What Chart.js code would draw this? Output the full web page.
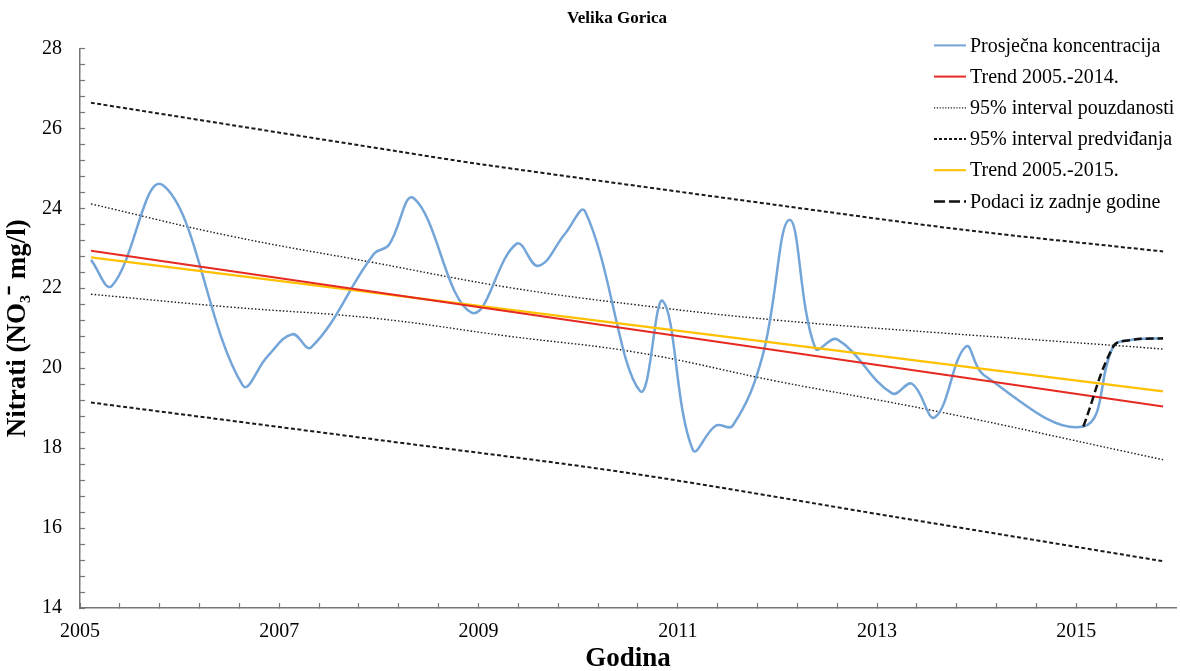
<!DOCTYPE html>
<html>
<head>
<meta charset="utf-8">
<script src="https://cdn.jsdelivr.net/npm/chart.js@4.4.1/dist/chart.umd.min.js"></script>
<style>
html,body{margin:0;padding:0;background:#fff;}
#wrap{width:1180px;height:671px;position:relative;}
</style>
</head>
<body>
<div id="wrap"><canvas id="c" width="1180" height="671"></canvas></div>
<script>
// ---------- text ----------
const chartTitle = 'Velika Gorica';
const xAxisTitle = 'Godina';
const yAxisTitle = 'Nitrati (NO\u2083\u207B mg/l)';
const xTickLabels = ['2005', '2007', '2009', '2011', '2013', '2015'];
const yTickLabels = ['14', '16', '18', '20', '22', '24', '26', '28'];
const legendLabels = [
  'Prosječna koncentracija',
  'Trend 2005.-2014.',
  '95% interval pouzdanosti',
  '95% interval predviđanja',
  'Trend 2005.-2015.',
  'Podaci iz zadnje godine'
];

// ---------- data ----------
const concYears  = [2005.11, 2005.32, 2005.83, 2006.63, 2006.88, 2007.13, 2007.32, 2007.95, 2008.10, 2008.35,
                    2008.93, 2009.38, 2009.60, 2009.87, 2010.07, 2010.62, 2010.85, 2011.15, 2011.38, 2011.55,
                    2011.85, 2012.12, 2012.38, 2012.60, 2013.15, 2013.35, 2013.58, 2013.89, 2014.07, 2015.07,
                    2015.37, 2015.53, 2015.87];
const concValues = [22.71, 22.06, 24.58, 19.58, 20.29, 20.85, 20.52, 22.86, 23.08, 24.25,
                    21.39, 23.11, 22.56, 23.37, 23.92, 19.43, 21.68, 17.96, 18.56, 18.56,
                    20.30, 23.71, 20.50, 20.72, 19.37, 19.61, 18.77, 20.54, 19.83, 18.54,
                    20.54, 20.70, 20.75];

const lastYearYears  = [2015.07, 2015.37, 2015.53, 2015.87];
const lastYearValues = [18.54, 20.54, 20.70, 20.75];

const trend14Years  = [2005.11, 2015.87];
const trend14Values = [22.94, 19.04];
const trend15Years  = [2005.11, 2015.87];
const trend15Values = [22.77, 19.42];

const confYears = [2005.11, 2006.50, 2007.95, 2009.30, 2010.60, 2012.00, 2013.60, 2015.87];
const confUpper = [24.11, 23.31, 22.64, 22.02, 21.58, 21.20, 20.89, 20.48];
const confLower = [21.85, 21.53, 21.25, 20.80, 20.39, 19.67, 18.92, 17.71];

const predUpperYears = [2005.11, 2008.20, 2009.00, 2012.00, 2013.87, 2015.87];
const predUpper      = [26.64, 25.42, 25.11, 24.08, 23.46, 22.92];
const predLowerYears = [2005.11, 2007.95, 2010.50, 2013.20, 2015.87];
const predLower      = [19.14, 18.22, 17.38, 16.27, 15.17];

// ---------- helpers ----------
function pts(xs, ys) { return xs.map((x, i) => ({ x: x, y: ys[i] })); }

// minor ticks: 5 intervals between labelled values, continued after the last x label
const xMajor = xTickLabels.map(Number);
const xTickValues = [];
xMajor.forEach((v, i) => { for (let k = 0; k < 5; k++) { if (i < xMajor.length - 1 || k < 3) xTickValues.push(+(v + k * (xMajor[1] - xMajor[0]) / 5).toFixed(4)); } });
const yMajor = yTickLabels.map(Number);
const yTickValues = [];
yMajor.forEach((v, i) => { for (let k = 0; k < 5; k++) { if (i < yMajor.length - 1 || k === 0) yTickValues.push(+(v + k * (yMajor[1] - yMajor[0]) / 5).toFixed(4)); } });

function labelFor(list, v) {
  const hit = list.find(s => Math.abs(Number(s) - v) < 1e-6);
  return hit === undefined ? '' : hit;
}

Chart.defaults.font.family = '"Liberation Serif", "Times New Roman", serif';
Chart.defaults.color = '#000';

const BLUE = '#74a5d8', RED = '#e62a22', YELLOW = '#ffc000', DARK = '#1a1a1a';

const datasets = [
  { label: legendLabels[0], data: pts(concYears, concValues), borderColor: BLUE, borderWidth: 2.5, tension: 0.4, order: 3 },
  { label: legendLabels[1], data: pts(trend14Years, trend14Values), borderColor: RED, borderWidth: 2, tension: 0, order: 1 },
  { label: legendLabels[2], data: pts(confYears, confUpper), borderColor: DARK, borderWidth: 1.4, borderDash: [1.5, 2], tension: 0.4, order: 4 },
  { label: legendLabels[2] + ' (donja)', data: pts(confYears, confLower), borderColor: DARK, borderWidth: 1.4, borderDash: [1.5, 2], tension: 0.4, order: 4 },
  { label: legendLabels[3], data: pts(predUpperYears, predUpper), borderColor: DARK, borderWidth: 2, borderDash: [4, 2.5], tension: 0.3, order: 5 },
  { label: legendLabels[3] + ' (donja)', data: pts(predLowerYears, predLower), borderColor: DARK, borderWidth: 2, borderDash: [4, 2.5], tension: 0.3, order: 5 },
  { label: legendLabels[4], data: pts(trend15Years, trend15Values), borderColor: YELLOW, borderWidth: 2.2, tension: 0, order: 2 },
  { label: legendLabels[5], data: pts(lastYearYears, lastYearValues), borderColor: '#111', borderWidth: 2.5, borderDash: [8, 4], tension: 0.4, order: 0 }
];
datasets.forEach(d => { d.pointRadius = 0; d.pointHoverRadius = 0; d.fill = false; });

// which dataset supplies the style of each legend row
const legendDatasetIndex = [0, 1, 2, 4, 6, 7];
const legendDash = [[], [], [1.2, 1.6], [3, 2], [], [11, 4]];

const insideLegend = {
  id: 'insideLegend',
  afterLayout(chart) {
    // nudge the chart title slightly left, as in the reference
    if (chart.titleBlock) { chart.titleBlock.left -= 11; chart.titleBlock.right -= 11; }
  },
  afterDraw(chart) {
    const { ctx, chartArea } = chart;
    const x0 = chartArea.right - 242;
    const y0 = chartArea.top - 3;
    const rowH = 31.2;
    ctx.save();
    ctx.font = '20px "Liberation Serif", "Times New Roman", serif';
    ctx.textBaseline = 'middle';
    ctx.textAlign = 'left';
    legendLabels.forEach((txt, i) => {
      const ds = chart.data.datasets[legendDatasetIndex[i]];
      const y = y0 + i * rowH;
      ctx.beginPath();
      ctx.setLineDash(legendDash[i]);
      ctx.strokeStyle = ds.borderColor;
      ctx.lineWidth = i === 2 ? 1.2 : (i === 5 ? 2.5 : 2);
      ctx.moveTo(x0, y);
      ctx.lineTo(x0 + 32, y);
      ctx.stroke();
      ctx.setLineDash([]);
      ctx.fillStyle = '#000';
      ctx.fillText(txt, x0 + 36, y + 1);
    });
    ctx.restore();
  }
};

new Chart(document.getElementById('c'), {
  type: 'line',
  data: { datasets: datasets },
  options: {
    responsive: false,
    animation: false,
    events: [],
    layout: { padding: { top: 0, right: 4, bottom: 0, left: 0 } },
    plugins: {
      legend: { display: false },
      tooltip: { enabled: false },
      title: {
        display: true,
        text: chartTitle,
        fullSize: false,
        font: { size: 17, weight: 'bold' },
        color: '#000',
        padding: { top: 8, bottom: 20 }
      }
    },
    scales: {
      x: {
        type: 'linear',
        min: 2005,
        max: 2016,
        afterBuildTicks: (scale) => { scale.ticks = xTickValues.map(v => ({ value: v })); },
        afterFit: (scale) => { scale.height = 63; },
        ticks: {
          autoSkip: false,
          maxRotation: 0,
          padding: 17,
          font: { size: 20 },
          color: '#000',
          callback: (v) => labelFor(xTickLabels, v)
        },
        grid: { drawOnChartArea: false, drawTicks: true, tickLength: -5, tickColor: '#777', tickWidth: 1.2 },
        border: { display: true, color: '#777', width: 1.5 },
        title: {
          display: true,
          text: xAxisTitle,
          font: { size: 27, weight: 'bold', lineHeight: 1 },
          color: '#000',
          padding: { top: 0, bottom: -2 }
        }
      },
      y: {
        type: 'linear',
        min: 14,
        max: 28,
        afterBuildTicks: (scale) => { scale.ticks = yTickValues.map(v => ({ value: v })); },
        afterFit: (scale) => { scale.width = 80; },
        ticks: {
          autoSkip: false,
          padding: 23,
          font: { size: 20 },
          color: '#000',
          callback: (v) => labelFor(yTickLabels, v)
        },
        grid: { drawOnChartArea: false, drawTicks: true, tickLength: -5, tickColor: '#777', tickWidth: 1.2 },
        border: { display: true, color: '#777', width: 1.5 },
        title: {
          display: true,
          text: yAxisTitle,
          font: { size: 27, weight: 'bold', lineHeight: 1 },
          color: '#000',
          padding: { top: 5, bottom: 0 }
        }
      }
    }
  },
  plugins: [insideLegend]
});
</script>
</body>
</html>
